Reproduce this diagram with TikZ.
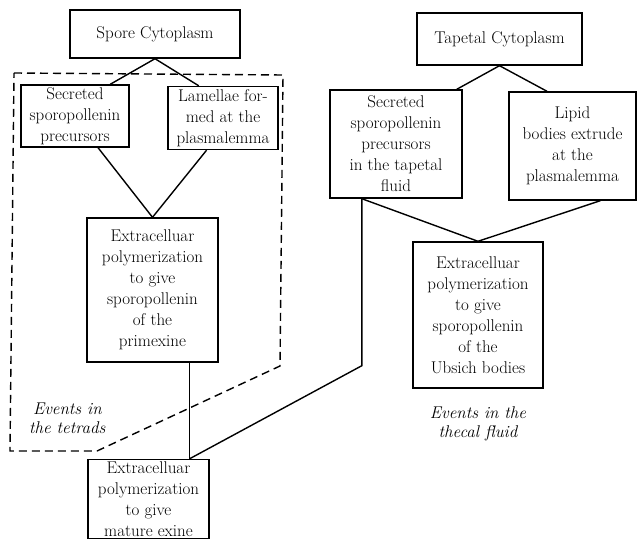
\documentclass[tikz,border=0pt]{standalone}
\usepackage{tikz}

\begin{document}
\begin{tikzpicture}[x=1pt, y=-1pt, line width=1.4pt,
        box/.style={draw, align=center, inner sep=2pt, font=\fontsize{17}{21}\selectfont},
        note/.style={align=center, font=\fontsize{17}{19}\selectfont\itshape}]
        \useasboundingbox (0,0) rectangle (639,545);
        % spore side
        \node[box, minimum width=170pt, minimum height=48pt] (spore) at (155,34) {Spore Cytoplasm};
        \node[box, minimum width=108pt, minimum height=62pt] (secS) at (75,116) {Secreted\\sporopollenin\\precursors};
        \node[box, minimum width=110pt, minimum height=63pt] (lam) at (223,118) {Lamellae for-\\med at the\\plasmalemma};
        \node[box, minimum width=131pt, minimum height=144pt] (prim) at (152.5,290) {Extracelluar\\polymerization\\to give\\sporopollenin\\of the\\primexine};
        \node[box, minimum width=121pt, minimum height=79pt] (exine) at (148.5,499) {Extracelluar\\polymerization\\to give\\mature exine};
        % tapetal side
        \node[box, minimum width=165pt, minimum height=52pt] (tap) at (499.5,39) {Tapetal Cytoplasm};
        \node[box, minimum width=132pt, minimum height=108pt] (secT) at (396,144) {Secreted\\sporopollenin\\precursors\\in the tapetal\\fluid};
        \node[box, minimum width=127pt, minimum height=108pt] (lipid) at (572.5,146) {Lipid\\bodies extrude\\at the\\plasmalemma};
        \node[box, minimum width=130pt, minimum height=146pt] (ubs) at (478,315) {Extracelluar\\polymerization\\to give\\sporopollenin\\of the\\Ubsich bodies};
        \node[note, align=left, anchor=west] (tetrads) at (25,418) {\hspace{4pt}Events in\\the tetrads};
        \node[note] (thecal) at (478,424) {Events in the\\thecal fluid};
        \draw[dashed, dash pattern=on 8pt off 5pt] (14,73) -- (283,75) -- (280,366) -- (97,451) -- (10,451) -- cycle;
        \coordinate (meet) at (prim.-63 |- exine.north);
        \draw (spore.south) -- (secS.42);
        \draw (spore.south) -- (lam.127);
        \draw (secS.-54) -- (prim.north) -- (lam.-117);
        \draw (prim.-63) -- (meet);
        \draw (tap.south) -- (secT.42);
        \draw (tap.south) -- (lipid.115);
        \draw (secT.238) -- (ubs.north) -- (lipid.-63);
        \draw (secT.238) -- ++(0,167) -- (meet);
    \end{tikzpicture}
\end{document}
